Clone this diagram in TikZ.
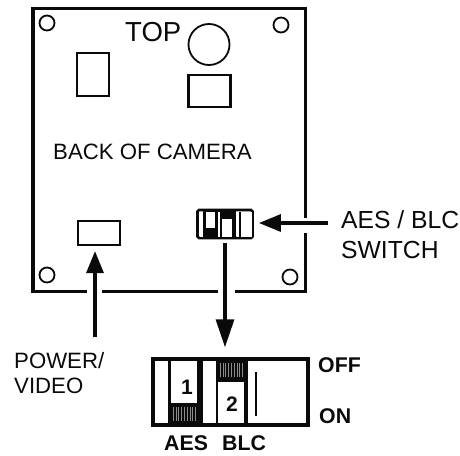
\documentclass[tikz,border=0pt]{standalone}
\usepackage{fontspec}
\setmainfont{Liberation Sans}
\usetikzlibrary{arrows.meta,positioning,calc}
\definecolor{ink}{HTML}{0A0A0A}
\definecolor{hatchw}{HTML}{8C8C8C}
\tikzset{
  frame/.style={draw=ink,line width=3.8pt,line join=miter},
  part/.style={draw=ink,fill=white,line width=2.2pt,rectangle,inner sep=0pt},
  hole/.style={draw=ink,fill=white,line width=1.8pt,circle,inner sep=0pt,minimum size=15pt},
  swbox/.style={draw=ink,fill=white,rectangle,inner sep=0pt},
  knob/.style={fill=white,rectangle,inner sep=0pt,font=\fontsize{21}{21}\selectfont\bfseries,text=ink},
  lab/.style={anchor=base west,inner sep=0pt,text=ink,font=\fontsize{22.2}{25}\selectfont},
  labb/.style={anchor=base west,inner sep=0pt,text=ink,font=\fontsize{21.3}{22}\selectfont\bfseries},
  arr/.style={-{Triangle[length=22pt,width=17pt]},draw=ink,line width=3.2pt}
}
\begin{document}
\begin{tikzpicture}[x=1pt,y=-1pt]
\useasboundingbox (0,0) rectangle (460,455);
% ===================== back of the camera =====================
\draw[frame] (87,291.5) -- (33,291.5) -- (33,8.5) -- (305.5,8.5) -- (305.5,218);
\draw[frame] (305.5,233) -- (305.5,291.5) -- (235,291.5);
\draw[frame,line width=3.2pt] (218,291.5) -- (102,291.5);
\node[hole] (holea) at (47,23) {};
\node[hole] (holeb) at (281,25) {};
\node[hole] (holec) at (47,275) {};
\node[hole] (holed) at (290,277) {};
\node[lab,font=\fontsize{27.5}{27.5}\selectfont] (top) at (125,41) {TOP};
\node[draw=ink,line width=1.8pt,circle,minimum size=41pt,inner sep=0pt] (lens) at (209,44.5) {};
\node[part,minimum width=32pt,minimum height=43pt] (parta) at (93,74.5) {};
\node[part,minimum width=42pt,minimum height=32pt] (partb) at (209.5,91) {};
\node[lab] (back) at (53,159) {BACK OF CAMERA};
\node[part,minimum width=42pt,minimum height=24pt] (power) at (99,233) {};
% small switch
\node[swbox,line width=2.8pt,rounded corners=1.5pt,minimum width=55pt,minimum height=28pt] (sw) at (225,224) {};
\fill[ink] (203,211) rectangle (235.5,237);
\fill[white] (199.5,212) rectangle (202.5,236.5);
\fill[white] (206,212) rectangle (215,228);
\fill[white] (217.5,212) rectangle (219.5,236.5);
\fill[white] (222,219) rectangle (232,236.5);
\fill[white] (236.5,212) rectangle (251.5,236.5);
\draw[ink,line width=1.2pt] (240,212) -- (240,236.5);
% ===================== the switch, enlarged =====================
\node[swbox,line width=3.4pt,minimum width=155pt,minimum height=66pt] (big) at (230.5,392) {};
\fill[ink] (168,360) rectangle (171,424);
\fill[ink] (197,360) rectangle (203,424);
\fill[ink] (171,403) rectangle (197,424);
\fill[ink] (216,360) rectangle (218,424);
\fill[ink] (218,360) rectangle (244,382);
\fill[ink] (244,360) rectangle (248,424);
\foreach \i in {0,...,8}{\draw[hatchw,line width=0.5pt] (173+\i*2.8,407) -- (173+\i*2.8,421);}
\foreach \i in {0,...,8}{\draw[hatchw,line width=0.5pt] (220+\i*2.8,363) -- (220+\i*2.8,377);}
\node[knob] (knoba) at (187,387) {1};
\node[knob] (knobb) at (232,404) {2};
\draw[ink,line width=2.4pt] (256,372) -- (256,416);
\node[labb] (off) at (318,372) {OFF};
\node[labb] (on) at (319,423) {ON};
\node[labb] (aes) at (164,450) {AES};
\node[labb] (blc) at (222,450) {BLC};
% ===================== callouts =====================
\node[lab,font=\fontsize{24.7}{30}\selectfont,anchor=north west,align=left] (swlab) at (341,210) {AES / BLC\\SWITCH};
\node[lab,anchor=north west,align=left] (powlab) at (14,352.5) {POWER/\\VIDEO};
\coordinate (powtail) at (95,337);
\coordinate (swtail) at (328,223);
\draw[arr,shorten >=5pt] (powtail) -- (powtail |- power.south);
\draw[arr,shorten >=5pt] (swtail) -- (swtail -| sw.east);
\draw[arr,-{Triangle[length=28pt,width=18pt]},shorten <=4pt,shorten >=10pt] (sw.south) -- (sw.south |- big.north);
\end{tikzpicture}
\end{document}
